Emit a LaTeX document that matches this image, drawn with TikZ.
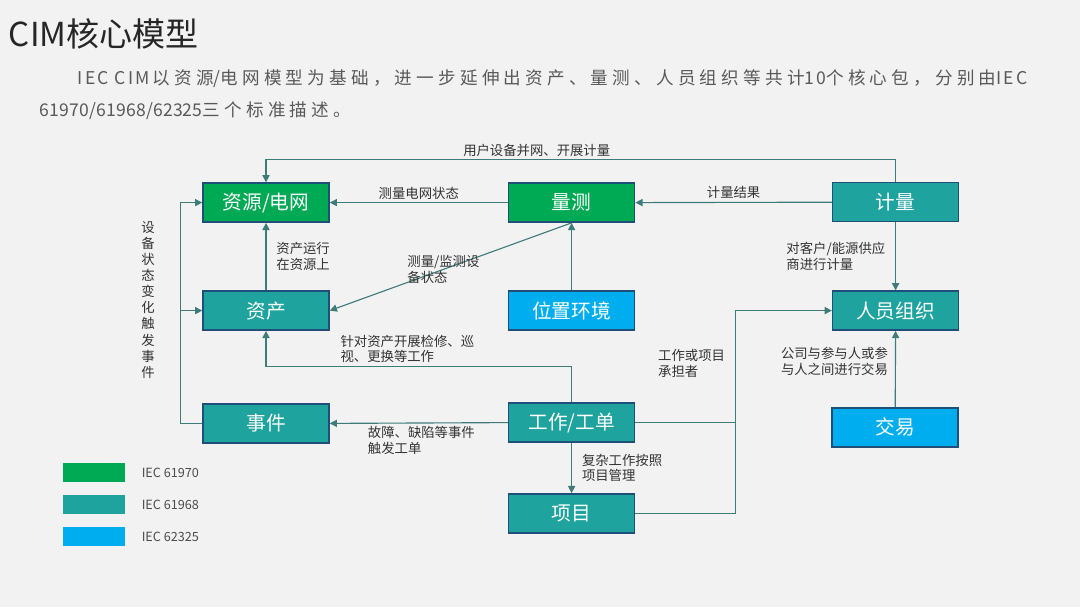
\documentclass[tikz,border=0pt]{standalone}
\usepackage{fontspec}
\setmainfont{Noto Sans CJK SC}
\newfontfamily\introcjk[LetterSpace=24]{Noto Sans CJK SC}
\newfontfamily\introlat[LetterSpace=12]{Noto Sans CJK SC}
\newfontfamily\introdig[LetterSpace=1]{Noto Sans CJK SC}
\usetikzlibrary{arrows.meta}
\definecolor{bgc}{HTML}{F2F2F2}
\definecolor{iecgrn}{HTML}{00AA55}
\definecolor{iecteal}{HTML}{1EA39E}
\definecolor{iecblue}{HTML}{00AEEF}
\definecolor{edgec}{HTML}{1F4E79}
\definecolor{linec}{HTML}{3E7C7A}
\definecolor{txtc}{HTML}{333333}

\begin{document}
\begin{tikzpicture}[
  font=\fontsize{9.5}{11}\selectfont,
  pkg/.style={draw=edgec, line width=1.1pt, minimum width=31.5mm,
              minimum height=9.75mm, inner sep=0pt, text=white,
              font=\fontsize{14}{16}\selectfont},
  g70/.style={pkg, fill=iecgrn},
  g68/.style={pkg, fill=iecteal},
  g25/.style={pkg, fill=iecblue},
  >={Triangle[length=1.8mm,width=1.8mm]},
  ln/.style={->, draw=linec, line width=0.8pt},
  pl/.style={draw=linec, line width=0.8pt},
  lb/.style={text=txtc, inner xsep=7pt, inner ysep=2pt, align=left},
  intro/.style={anchor=west, text=black!65, font=\fontsize{12.5}{15}\introcjk},
]

\fill[bgc] (0,0) rectangle (27,15.175);

\node[anchor=west, text=black!85, font=\fontsize{23.5}{28}\selectfont]
     (title) at (0.1,14.33) {CIM核心模型};
\node[intro] (intro1) at (1.82,13.2)
     {{\introlat IEC CIM}\,以资源{\introlat /}电网模型为基础，进一步延伸出资产、量测、人员组织等共计{\introlat 10}个核心包，分别由{\introlat IEC}};
\node[intro] (intro2) at (0.87,12.4)
     {{\introdig 61970/61968/62325}三个标准描述。};

\node[g70] (grid) at (6.65,10.11) {资源/电网};
\node[g70] (meas) at (14.29,10.11) {量测};
\node[g68] (meter) at (22.39,10.12) {计量};
\node[g68] (asset) at (6.65,7.41) {资产};
\node[g25] (loc) at (14.29,7.41) {位置环境};
\node[g68] (org) at (22.39,7.41) {人员组织};
\node[g68] (event) at (6.65,4.59) {事件};
\node[g68] (work) at (14.29,4.61) {工作/工单};
\node[g25] (trade) at (22.38,4.49) {交易};
\node[g68] (proj) at (14.29,2.34) {项目};

\node[lb, inner xsep=2pt, align=center, font=\fontsize{9.5}{11.45}\selectfont]
     (trig) at (3.7,7.68) {设\\备\\状\\态\\变\\化\\触\\发\\事\\件};

\draw[ln] (meter.north) -- ++(0,0.55) -| node[lb, above, pos=0.285]
      {用户设备并网、开展计量} (grid.north);
\draw[ln] (meas.west) -- node[lb, above] {测量电网状态} (grid.east);
\draw[ln] (meter.west) -- node[lb, above] {计量结果} (meas.east);
\draw[ln] (asset.north) -- node[lb, right] {资产运行\\在资源上} (grid.south);
\draw[ln] (meas.south) -- node[lb, inner xsep=2pt, pos=0.53]
      {测量/监测设\\备状态} (asset.east);
\draw[ln] (loc.north) -- (meas.south);

\draw[ln] (work.north) -- ++(0,0.9) -| node[lb, above right, pos=0.395]
      {针对资产开展检修、巡\\视、更换等工作} (asset.south);
\draw[ln] (work.west) -- node[lb, below right, pos=0.844]
      {故障、缺陷等事件\\触发工单} (event.east);
\draw[ln] (event.west) -- ++(-0.55,0) |- (grid.west);
\draw[ln] (event.west) ++(-0.55,0) |- (asset.west);

\draw[ln] (meter.south) -- node[lb, left] {对客户/能源供应\\商进行计量} (org.north);
\draw[pl] (work.east) -- ++(2.5,0);
\draw[ln] (proj.east) -- ++(2.5,0) |- node[lb, left, pos=0.37]
      {工作或项目\\承担者} (org.west);
\draw[ln] (work.south) -- node[lb, right] {复杂工作按照\\项目管理} (proj.north);
\draw[ln] (trade.north) -- node[lb, left, inner xsep=5pt, pos=0.6]
      {公司与参与人或参\\与人之间进行交易} (org.south);

\foreach \c/\t [count=\i] in {iecgrn/IEC 61970, iecteal/IEC 61968, iecblue/IEC 62325} {
  \node[fill=\c, minimum width=15.5mm, minimum height=4.75mm, inner sep=0pt]
       (key\i) at (2.35,{3.36-0.8*(\i-1)}) {};
  \node[anchor=west, text=black!70, font=\fontsize{9}{10}\selectfont]
       (keyt\i) at (3.42,{3.36-0.8*(\i-1)}) {\t};
}

\end{tikzpicture}
\end{document}
